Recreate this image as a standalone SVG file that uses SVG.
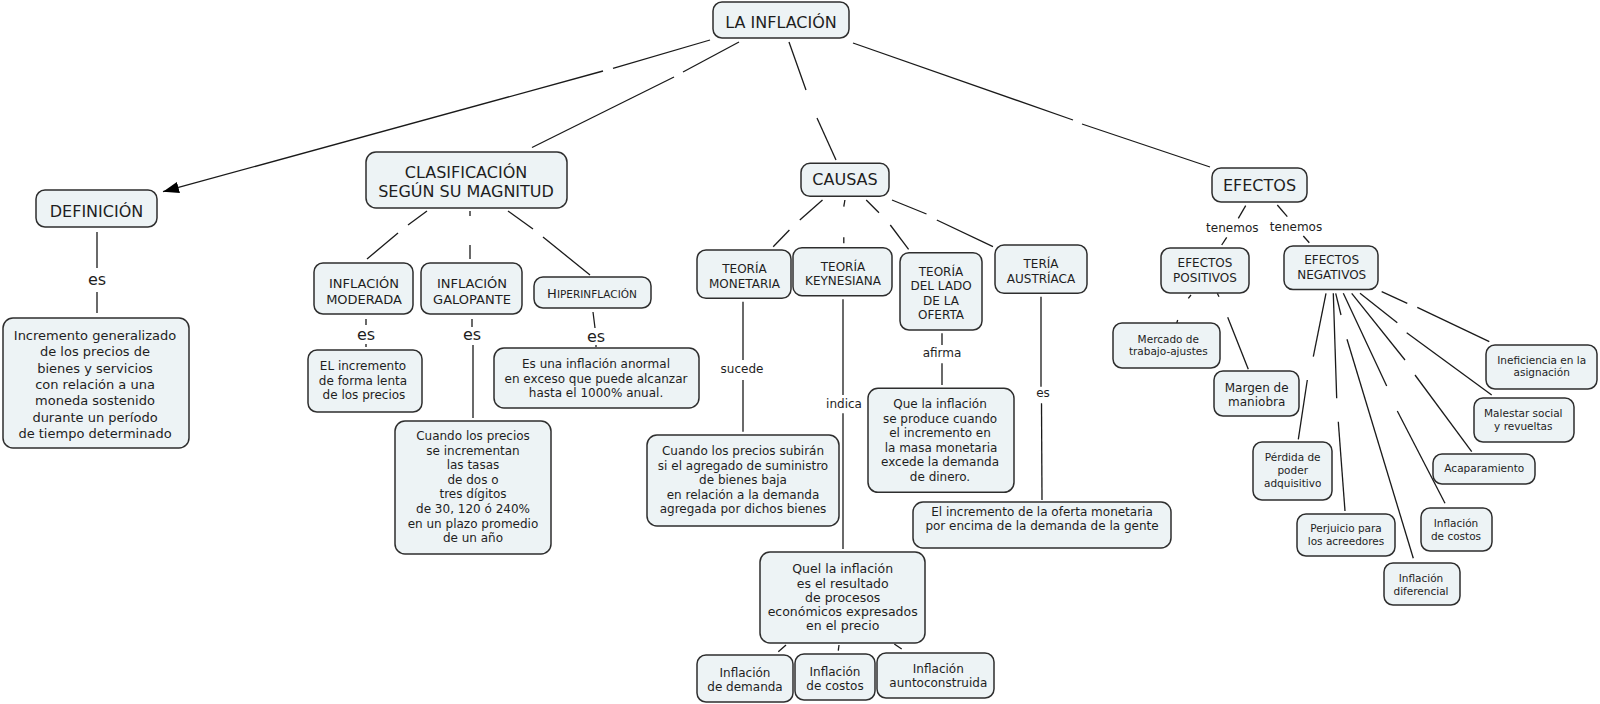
<svg xmlns="http://www.w3.org/2000/svg" width="1600" height="704" viewBox="0 0 1600 704">
<defs>
<style>
.n rect{fill:#edf3f5;stroke:#2e2e2e;stroke-width:1.5}
text{font-family:"DejaVu Sans","Verdana",sans-serif;fill:#1e1e1e;text-anchor:middle}
.t16{font-size:16px}
.t13{font-size:13px}
.t12{font-size:12px}
.t125{font-size:12.5px}
.t105{font-size:10.5px}
.c line,.c path{stroke:#1a1a1a;stroke-width:1.3;fill:none}
</style>
<marker id="arr" viewBox="0 0 14 10" refX="14" refY="5" markerUnits="userSpaceOnUse" markerWidth="16" markerHeight="12" orient="auto">
<path d="M0,0 L14,5 L0,10 z" fill="#000"/>
</marker>
</defs>
<rect width="1600" height="704" fill="#fff"/>

<g id="connectors" class="c">
<line x1="710" y1="40" x2="613" y2="68.3"/>
<line x1="603" y1="71" x2="163" y2="191.7" marker-end="url(#arr)"/>
<line x1="739" y1="42" x2="683" y2="72"/>
<line x1="674" y1="77" x2="532" y2="147.5"/>
<line x1="789" y1="42" x2="806" y2="90"/>
<line x1="817" y1="118" x2="836" y2="160"/>
<line x1="853" y1="43" x2="1073" y2="120"/>
<line x1="1082" y1="124" x2="1210" y2="167"/>
<line x1="97" y1="232" x2="97" y2="268"/>
<line x1="97" y1="292" x2="97" y2="313"/>
<line x1="427" y1="211" x2="408" y2="225"/>
<line x1="398" y1="233" x2="367" y2="259"/>
<line x1="470" y1="211" x2="470" y2="216"/>
<line x1="470" y1="245" x2="470" y2="259"/>
<line x1="508" y1="211" x2="533" y2="229"/>
<line x1="543" y1="237" x2="590" y2="275"/>
<line x1="366" y1="319" x2="366" y2="325"/>
<line x1="366" y1="344" x2="366" y2="347"/>
<line x1="472" y1="319" x2="472" y2="327"/>
<line x1="473" y1="345" x2="473" y2="418"/>
<line x1="593" y1="312" x2="595" y2="328"/>
<line x1="596" y1="345" x2="596" y2="347"/>
<line x1="822.5" y1="200" x2="799.8" y2="220"/>
<line x1="789.4" y1="230" x2="773.2" y2="246.7"/>
<line x1="844.9" y1="200" x2="843.8" y2="206.7"/>
<line x1="843.8" y1="237.3" x2="843.8" y2="243.3"/>
<line x1="866.2" y1="200" x2="879" y2="212.7"/>
<line x1="890.3" y1="225" x2="908.6" y2="249.3"/>
<line x1="892" y1="200" x2="926.5" y2="214"/>
<line x1="936.8" y1="220" x2="993" y2="246.7"/>
<line x1="743" y1="301.7" x2="743" y2="360"/>
<line x1="743" y1="380" x2="743" y2="431.7"/>
<line x1="843" y1="299.3" x2="843" y2="395"/>
<line x1="843" y1="413.3" x2="843" y2="549"/>
<line x1="942" y1="333.3" x2="942" y2="345"/>
<line x1="942" y1="363.3" x2="942" y2="385"/>
<line x1="1041" y1="296.7" x2="1041" y2="386.7"/>
<line x1="1041.5" y1="403.3" x2="1042" y2="500"/>
<line x1="786" y1="645" x2="778.3" y2="651.7"/>
<line x1="839" y1="645" x2="838.3" y2="650.7"/>
<line x1="894.3" y1="644" x2="901.7" y2="649"/>
<line x1="1245.7" y1="205.7" x2="1238.3" y2="218.3"/>
<line x1="1226.7" y1="237.3" x2="1221.7" y2="245"/>
<line x1="1277.3" y1="205" x2="1287.3" y2="216.7"/>
<line x1="1303.3" y1="236" x2="1309.3" y2="242.7"/>
<line x1="1191" y1="295" x2="1188.3" y2="298.3"/>
<line x1="1177.7" y1="320" x2="1176.7" y2="323"/>
<line x1="1217.3" y1="293.3" x2="1219" y2="296.7"/>
<line x1="1227.7" y1="317.3" x2="1248.3" y2="369.3"/>
<line x1="1326" y1="293.3" x2="1313.3" y2="356.7"/>
<line x1="1307.3" y1="380" x2="1298.3" y2="439.3"/>
<line x1="1333.3" y1="293.3" x2="1336.7" y2="398.3"/>
<line x1="1338.3" y1="421.7" x2="1345" y2="511"/>
<line x1="1335.7" y1="293.3" x2="1341" y2="315"/>
<line x1="1347" y1="339.3" x2="1413.3" y2="558.3"/>
<line x1="1343.3" y1="293.3" x2="1386.7" y2="386"/>
<line x1="1397.3" y1="411" x2="1445" y2="503.3"/>
<line x1="1351.7" y1="293.3" x2="1405" y2="360"/>
<line x1="1415" y1="375" x2="1471.7" y2="451.7"/>
<line x1="1360" y1="293.3" x2="1397.3" y2="322.7"/>
<line x1="1406.7" y1="332.7" x2="1491.7" y2="395"/>
<line x1="1381.7" y1="291.7" x2="1407.3" y2="303.3"/>
<line x1="1417.3" y1="307.3" x2="1489.3" y2="341.7"/>
</g>

<g id="labels">
<text class="t16" x="97" y="285">es</text>
<text class="t16" x="366" y="340">es</text>
<text class="t16" x="472" y="340">es</text>
<text class="t16" x="596" y="342">es</text>
<text class="t12" x="742" y="373.3">sucede</text>
<text class="t12" x="844" y="408.3">indica</text>
<text class="t12" x="942" y="356.7">afirma</text>
<text class="t12" x="1043" y="396.7">es</text>
<text class="t12" x="1232.3" y="231.7">tenemos</text>
<text class="t12" x="1296" y="230.7">tenemos</text>
</g>

<g id="n-inflacion" class="n"><rect x="713" y="2" width="136" height="36" rx="9"/><text class="t16" x="781" y="28">LA INFLACIÓN</text></g>
<g id="n-definicion" class="n"><rect x="36" y="190" width="121" height="37" rx="9"/><text class="t16" x="96.5" y="216.5">DEFINICIÓN</text></g>
<g id="n-def-desc" class="n"><rect x="3" y="318" width="186" height="130" rx="10"/>
<text class="t13" x="95"><tspan x="95" y="340">Incremento generalizado</tspan><tspan x="95" y="356.3">de los precios de</tspan><tspan x="95" y="372.6">bienes y servicios</tspan><tspan x="95" y="388.9">con relación a una</tspan><tspan x="95" y="405.2">moneda sostenido</tspan><tspan x="95" y="421.5">durante un período</tspan><tspan x="95" y="437.8">de tiempo determinado</tspan></text></g>

<g id="n-clasificacion" class="n"><rect x="366" y="152" width="201" height="56" rx="10"/><text class="t16" x="466"><tspan x="466" y="178.3">CLASIFICACIÓN</tspan><tspan x="466" y="197.3">SEGÚN SU MAGNITUD</tspan></text></g>
<g id="n-moderada" class="n"><rect x="314" y="263" width="99" height="51" rx="9"/><text class="t13" x="364"><tspan x="364" y="288.3">INFLACIÓN</tspan><tspan x="364" y="304">MODERADA</tspan></text></g>
<g id="n-galopante" class="n"><rect x="421" y="263" width="101" height="51" rx="9"/><text class="t13" x="472"><tspan x="472" y="288.3">INFLACIÓN</tspan><tspan x="472" y="304">GALOPANTE</tspan></text></g>
<g id="n-hiper" class="n"><rect x="534" y="277" width="117" height="31" rx="9"/><text x="592" y="298"><tspan font-size="13">H</tspan><tspan font-size="10.5">IPERINFLACIÓN</tspan></text></g>
<g id="n-moderada-desc" class="n"><rect x="308" y="350" width="114" height="62" rx="9"/><text class="t12" x="363"><tspan x="363" y="370">EL incremento</tspan><tspan x="363" y="384.5">de forma lenta</tspan><tspan x="364" y="399">de los precios</tspan></text></g>
<g id="n-galopante-desc" class="n"><rect x="395" y="421" width="156" height="133" rx="10"/><text class="t12" x="473"><tspan x="473" y="440">Cuando los precios</tspan><tspan x="473" y="454.6">se incrementan</tspan><tspan x="473" y="469.2">las tasas</tspan><tspan x="473" y="483.8">de dos o</tspan><tspan x="473" y="498.4">tres dígitos</tspan><tspan x="473" y="513">de 30, 120 ó 240%</tspan><tspan x="473" y="527.6">en un plazo promedio</tspan><tspan x="473" y="542.2">de un año</tspan></text></g>
<g id="n-hiper-desc" class="n"><rect x="494" y="348" width="205" height="60" rx="10"/><text class="t12" x="596"><tspan x="596" y="368">Es una inflación anormal</tspan><tspan x="596" y="382.5">en exceso que puede alcanzar</tspan><tspan x="596" y="397">hasta el 1000% anual.</tspan></text></g>

<g id="n-causas" class="n"><rect x="801" y="163.3" width="88" height="33" rx="9"/><text class="t16" x="845" y="185.2">CAUSAS</text></g>
<g id="n-monetaria" class="n"><rect x="697" y="250" width="94" height="48.3" rx="9"/><text class="t12" x="744.5"><tspan x="744.5" y="273.3">TEORÍA</tspan><tspan x="744.5" y="287.7">MONETARIA</tspan></text></g>
<g id="n-keynesiana" class="n"><rect x="793" y="247.7" width="99" height="48" rx="9"/><text class="t12" x="843"><tspan x="843" y="270.7">TEORÍA</tspan><tspan x="843" y="285">KEYNESIANA</tspan></text></g>
<g id="n-oferta" class="n"><rect x="900" y="252.7" width="82" height="77.3" rx="9"/><text class="t12" x="941"><tspan x="941" y="275.7">TEORÍA</tspan><tspan x="941" y="290.2">DEL LADO</tspan><tspan x="941" y="304.7">DE LA</tspan><tspan x="941" y="319.2">OFERTA</tspan></text></g>
<g id="n-austriaca" class="n"><rect x="995" y="245" width="92" height="48.3" rx="9"/><text class="t12" x="1041"><tspan x="1041" y="268.3">TERÍA</tspan><tspan x="1041" y="282.7">AUSTRÍACA</tspan></text></g>
<g id="n-monetaria-desc" class="n"><rect x="647" y="435" width="192" height="91" rx="10"/><text class="t12" x="743"><tspan x="743" y="455">Cuando los precios subirán</tspan><tspan x="743" y="469.5">si el agregado de suministro</tspan><tspan x="743" y="484">de bienes baja</tspan><tspan x="743" y="498.5">en relación a la demanda</tspan><tspan x="743" y="513">agregada por dichos bienes</tspan></text></g>
<g id="n-oferta-desc" class="n"><rect x="868" y="388.3" width="146" height="104" rx="10"/><text class="t12" x="940"><tspan x="940" y="408.3">Que la inflación</tspan><tspan x="940" y="422.8">se produce cuando</tspan><tspan x="940" y="437.3">el incremento en</tspan><tspan x="941" y="451.8">la masa monetaria</tspan><tspan x="940" y="466.2">excede la demanda</tspan><tspan x="940" y="480.7">de dinero.</tspan></text></g>
<g id="n-austriaca-desc" class="n"><rect x="913" y="502" width="258" height="46" rx="10"/><text class="t12" x="1042"><tspan x="1042" y="515.7">El incremento de la oferta monetaria</tspan><tspan x="1042" y="530">por encima de la demanda de la gente</tspan></text></g>
<g id="n-keynesiana-desc" class="n"><rect x="760" y="552" width="165" height="91" rx="10"/><text class="t125" x="842.7"><tspan x="842.7" y="573.3">Quel la inflación</tspan><tspan x="842.7" y="587.5">es el resultado</tspan><tspan x="842.7" y="601.7">de procesos</tspan><tspan x="842.7" y="615.9">económicos expresados</tspan><tspan x="842.7" y="630.1">en el precio</tspan></text></g>
<g id="n-demanda" class="n"><rect x="697" y="655" width="96" height="47" rx="9"/><text class="t12" x="745"><tspan x="745" y="676.7">Inflación</tspan><tspan x="745" y="690.5">de demanda</tspan></text></g>
<g id="n-costos" class="n"><rect x="795" y="654" width="80" height="46" rx="9"/><text class="t12" x="835"><tspan x="835" y="675.7">Inflación</tspan><tspan x="835" y="689.5">de costos</tspan></text></g>
<g id="n-autoconstruida" class="n"><rect x="877" y="653" width="117" height="45" rx="9"/><text class="t12" x="938.3"><tspan x="938.3" y="673.3">Inflación</tspan><tspan x="938.3" y="687.3">auntoconstruida</tspan></text></g>

<g id="n-efectos" class="n"><rect x="1212" y="168" width="95" height="34" rx="9"/><text class="t16" x="1259.5" y="190.7">EFECTOS</text></g>
<g id="n-positivos" class="n"><rect x="1161" y="248" width="88" height="45" rx="9"/><text class="t12" x="1205"><tspan x="1205" y="266.7">EFECTOS</tspan><tspan x="1205" y="281.7">POSITIVOS</tspan></text></g>
<g id="n-negativos" class="n"><rect x="1284" y="246" width="94" height="43.5" rx="9"/><text class="t12" x="1331.7"><tspan x="1331.7" y="264.3">EFECTOS</tspan><tspan x="1331.7" y="279">NEGATIVOS</tspan></text></g>
<g id="n-mercado" class="n"><rect x="1113" y="323" width="107" height="45" rx="9"/><text class="t105" x="1168.3"><tspan x="1168.3" y="342.5">Mercado de</tspan><tspan x="1168.3" y="355">trabajo-ajustes</tspan></text></g>
<g id="n-margen" class="n"><rect x="1214" y="371" width="85" height="45" rx="9"/><text class="t12" x="1256.7"><tspan x="1256.7" y="391.5">Margen de</tspan><tspan x="1256.7" y="405.5">maniobra</tspan></text></g>
<g id="n-perdida" class="n"><rect x="1253" y="442" width="79" height="58" rx="9"/><text class="t105" x="1292.7"><tspan x="1292.7" y="460.5">Pérdida de</tspan><tspan x="1292.7" y="473.5">poder</tspan><tspan x="1292.7" y="486.5">adquisitivo</tspan></text></g>
<g id="n-perjuicio" class="n"><rect x="1297" y="514" width="98" height="42" rx="9"/><text class="t105" x="1346"><tspan x="1346" y="532">Perjuicio para</tspan><tspan x="1346" y="544.5">los acreedores</tspan></text></g>
<g id="n-diferencial" class="n"><rect x="1384" y="563" width="76" height="42" rx="9"/><text class="t105" x="1421"><tspan x="1421" y="582">Inflación</tspan><tspan x="1421" y="594.5">diferencial</tspan></text></g>
<g id="n-costos2" class="n"><rect x="1421" y="508" width="71" height="43" rx="9"/><text class="t105" x="1456"><tspan x="1456" y="527">Inflación</tspan><tspan x="1456" y="540">de costos</tspan></text></g>
<g id="n-acaparamiento" class="n"><rect x="1433" y="454" width="102" height="30" rx="9"/><text class="t105" x="1484.3" y="472">Acaparamiento</text></g>
<g id="n-malestar" class="n"><rect x="1474" y="398" width="100" height="44" rx="9"/><text class="t105" x="1523.3"><tspan x="1523.3" y="417">Malestar social</tspan><tspan x="1523.3" y="429.5">y revueltas</tspan></text></g>
<g id="n-ineficiencia" class="n"><rect x="1486" y="345" width="111" height="44" rx="9"/><text class="t105" x="1541.7"><tspan x="1541.7" y="363.5">Ineficiencia en la</tspan><tspan x="1541.7" y="376">asignación</tspan></text></g>
</svg>
